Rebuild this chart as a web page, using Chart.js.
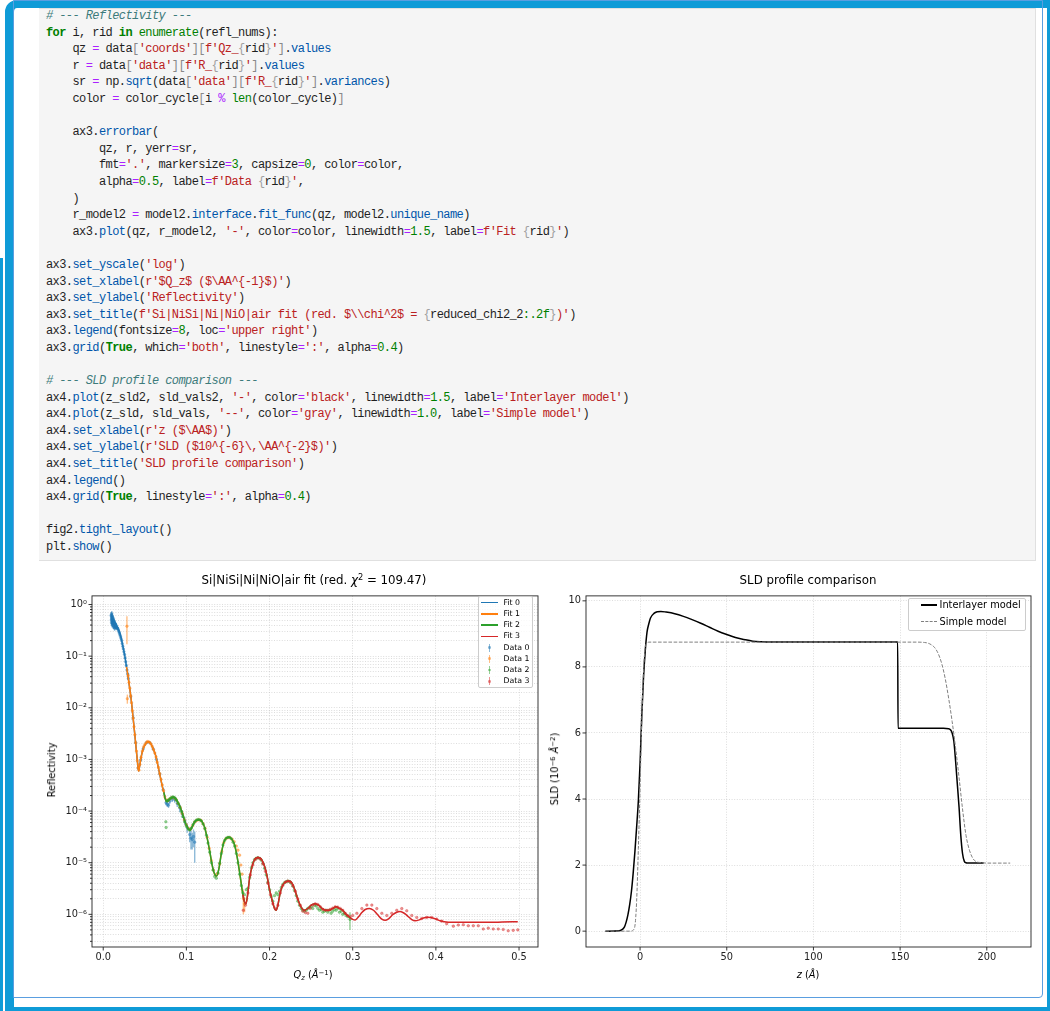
<!DOCTYPE html>
<html>
<head>
<meta charset="utf-8">
<script src="https://cdn.jsdelivr.net/npm/chart.js@4.4.1/dist/chart.umd.min.js"></script>
<style>
html,body{margin:0;padding:0;background:#fff;}
body{width:1050px;height:1011px;position:relative;overflow:hidden;font-family:"DejaVu Sans",sans-serif;color:#000;}
.a{position:absolute;}
#code{left:39px;top:8px;width:997px;height:553px;background:#f5f5f5;border-right:1px solid #e0e0e0;border-bottom:1px solid #e0e0e0;border-top:1px solid #e0e0e0;box-sizing:border-box;}
#code pre{margin:0;position:absolute;left:7px;top:-1px;font-family:"Liberation Mono",monospace;font-size:12px;line-height:16.6px;letter-spacing:-0.58px;color:#1f1f1f;}
.kw{color:#008000;font-weight:bold}
.bi{color:#008000}
.st{color:#ba2121}
.nu{color:#008000}
.cm{color:#3d7b7b;font-style:italic}
.op{color:#aa22ff}
.pr{color:#0055aa}
.br{color:#888}
.fb{color:#a0a0a0}
.lbl{position:absolute;white-space:nowrap;transform:translate(-50%,-50%);font-family:"DejaVu Sans",sans-serif;color:#000;line-height:1;}
.lbl sup{font-size:0.7em;vertical-align:0;position:relative;top:-0.5em;}
.lbl sub{font-size:0.7em;vertical-align:0;position:relative;top:0.3em;}
.leg{position:absolute;background:rgba(255,255,255,0.8);border:1px solid #cccccc;border-radius:2px;box-sizing:border-box;}
.legtxt{position:absolute;white-space:nowrap;font-family:"DejaVu Sans",sans-serif;color:#000;line-height:1;transform:translateY(-50%);}
</style>
</head>
<body>
<!-- notebook frame -->
<div class="a" style="left:0;top:258px;width:3px;height:753px;background:#0f9bd7"></div>
<div class="a" style="left:5px;top:0;width:1045px;height:1011px;box-sizing:border-box;border-style:solid;border-color:#0f9bd7;border-width:8px 3px 4px 9px;border-top-left-radius:12px;"></div>
<div class="a" style="left:13px;top:0;width:1030px;height:998px;box-sizing:border-box;border:1px solid #5a9ee0;border-radius:0 0 4px 0;"></div>

<div id="code" class="a"><pre id="codepre"></pre></div>

<script type="text/plain" id="src"># --- Reflectivity ---
for i, rid in enumerate(refl_nums):
    qz = data['coords'][f'Qz_{rid}'].values
    r = data['data'][f'R_{rid}'].values
    sr = np.sqrt(data['data'][f'R_{rid}'].variances)
    color = color_cycle[i % len(color_cycle)]

    ax3.errorbar(
        qz, r, yerr=sr,
        fmt='.', markersize=3, capsize=0, color=color,
        alpha=0.5, label=f'Data {rid}',
    )
    r_model2 = model2.interface.fit_func(qz, model2.unique_name)
    ax3.plot(qz, r_model2, '-', color=color, linewidth=1.5, label=f'Fit {rid}')

ax3.set_yscale('log')
ax3.set_xlabel(r'$Q_z$ ($\AA^{-1}$)')
ax3.set_ylabel('Reflectivity')
ax3.set_title(f'Si|NiSi|Ni|NiO|air fit (red. $\\chi^2$ = {reduced_chi2_2:.2f})')
ax3.legend(fontsize=8, loc='upper right')
ax3.grid(True, which='both', linestyle=':', alpha=0.4)

# --- SLD profile comparison ---
ax4.plot(z_sld2, sld_vals2, '-', color='black', linewidth=1.5, label='Interlayer model')
ax4.plot(z_sld, sld_vals, '--', color='gray', linewidth=1.0, label='Simple model')
ax4.set_xlabel(r'z ($\AA$)')
ax4.set_ylabel(r'SLD ($10^{-6}\,\AA^{-2}$)')
ax4.set_title('SLD profile comparison')
ax4.legend()
ax4.grid(True, linestyle=':', alpha=0.4)

fig2.tight_layout()
plt.show()</script>

<div class="a" style="left:40px;top:585px;width:505px;height:400px;"><canvas id="refl" width="505" height="400"></canvas></div>
<div class="a" style="left:545px;top:585px;width:495px;height:400px;"><canvas id="sld" width="495" height="400"></canvas></div>

<div class="lbl" style="left:314px;top:581px;font-size:11.8px;">Si|NiSi|Ni|NiO|air fit (red. <i>χ</i><sup>2</sup> = 109.47)</div>
<div class="lbl" style="left:51.5px;top:770px;font-size:9.8px;transform:translate(-50%,-50%) rotate(-90deg);">Reflectivity</div>
<div class="lbl" style="left:313px;top:975px;font-size:9.8px;"><i>Q<sub>z</sub></i> (<i>Å</i><sup>−1</sup>)</div>

<div class="lbl" style="left:808px;top:581px;font-size:11.8px;">SLD profile comparison</div>
<div class="lbl" style="left:555px;top:769px;font-size:9.8px;transform:translate(-50%,-50%) rotate(-90deg);">SLD (10<sup>−6</sup> <i>Å</i><sup>−2</sup>)</div>
<div class="lbl" style="left:808px;top:975px;font-size:9.8px;"><i>z</i> (<i>Å</i>)</div>

<div id="legRefl" class="leg" style="left:477.5px;top:596px;width:55.5px;height:92px;"></div>
<div id="legSld" class="leg" style="left:907.5px;top:597.5px;width:118.5px;height:33.5px;"></div>

<script>
// ================= DATA =================
const reflXTicks = [0.0, 0.1, 0.2, 0.3, 0.4, 0.5];
const reflXTickLabels = ['0.0', '0.1', '0.2', '0.3', '0.4', '0.5'];
const reflYDecades = [1e-7, 1e-6, 1e-5, 1e-4, 1e-3, 1e-2, 1e-1, 1e0];
const reflYDecadeLabels = ['10⁻⁷', '10⁻⁶', '10⁻⁵', '10⁻⁴', '10⁻³', '10⁻²', '10⁻¹', '10⁰'];
const reflYMinorSteps = [2, 3, 4, 5, 6, 7, 8, 9];

const fitLabels = ['Fit 0', 'Fit 1', 'Fit 2', 'Fit 3'];
const dataLabels = ['Data 0', 'Data 1', 'Data 2', 'Data 3'];
const fitRanges = [[0.0095, 0.1100], [0.0280, 0.1700], [0.0730, 0.2970], [0.1680, 0.4985]];

const fitQ = [0.0095, 0.0100, 0.0125, 0.0150, 0.0175, 0.0200, 0.0220, 0.0240, 0.0260, 0.0280,
  0.0300, 0.0320, 0.0340, 0.0360, 0.0380, 0.0400, 0.0415, 0.0426, 0.0440, 0.0460,
  0.0480, 0.0510, 0.0540, 0.0570, 0.0600, 0.0630, 0.0660, 0.0690, 0.0720, 0.0730,
  0.0745, 0.0765, 0.0790, 0.0820, 0.0845, 0.0870, 0.0900, 0.0925, 0.0950, 0.0975,
  0.1000, 0.1025, 0.1045, 0.1070, 0.1100, 0.1130, 0.1160, 0.1190, 0.1220, 0.1250,
  0.1280, 0.1310, 0.1340, 0.1365, 0.1390, 0.1420, 0.1450, 0.1480, 0.1515, 0.1550,
  0.1580, 0.1610, 0.1640, 0.1670, 0.1680, 0.1695, 0.1715, 0.1735, 0.1760, 0.1790,
  0.1820, 0.1860, 0.1900, 0.1940, 0.1970, 0.2000, 0.2030, 0.2060, 0.2080, 0.2100,
  0.2130, 0.2160, 0.2200, 0.2235, 0.2270, 0.2300, 0.2330, 0.2360, 0.2390, 0.2420,
  0.2460, 0.2500, 0.2545, 0.2590, 0.2630, 0.2680, 0.2720, 0.2760, 0.2800, 0.2840,
  0.2880, 0.2920, 0.2960, 0.2970, 0.3000, 0.3030, 0.3070, 0.3110, 0.3150, 0.3200,
  0.3250, 0.3300, 0.3350, 0.3390, 0.3430, 0.3480, 0.3530, 0.3570, 0.3620, 0.3670,
  0.3710, 0.3750, 0.3800, 0.3850, 0.3900, 0.3940, 0.3990, 0.4050, 0.4100, 0.4200,
  0.4350, 0.4500, 0.4650, 0.4800, 0.4985];
const fitR = [0.56, 0.55, 0.50, 0.43, 0.35, 0.28, 0.21, 0.146, 0.100, 0.062,
  0.039, 0.023, 0.0128, 0.0062, 0.0030, 1.40e-3, 8.0e-4, 6.0e-4, 7.8e-4, 1.20e-3,
  1.60e-3, 2.00e-3, 2.20e-3, 2.05e-3, 1.62e-3, 1.20e-3, 7.3e-4, 4.3e-4, 2.6e-4, 2.3e-4,
  1.75e-4, 1.55e-4, 1.65e-4, 1.80e-4, 1.85e-4, 1.75e-4, 1.45e-4, 1.20e-4, 9.2e-5, 6.8e-5,
  5.3e-5, 4.5e-5, 4.3e-5, 5.0e-5, 6.2e-5, 6.7e-5, 6.8e-5, 6.2e-5, 4.8e-5, 3.0e-5,
  1.70e-5, 9.0e-6, 6.0e-6, 5.5e-6, 7.5e-6, 1.50e-5, 2.50e-5, 3.00e-5, 3.10e-5, 2.80e-5,
  2.20e-5, 1.30e-5, 6.5e-6, 3.0e-6, 2.4e-6, 1.8e-6, 1.6e-6, 2.3e-6, 5.0e-6, 8.5e-6,
  1.15e-5, 1.26e-5, 1.18e-5, 8.5e-6, 5.5e-6, 3.0e-6, 1.9e-6, 1.3e-6, 1.2e-6, 1.5e-6,
  2.7e-6, 3.7e-6, 4.3e-6, 4.4e-6, 4.0e-6, 3.1e-6, 2.2e-6, 1.6e-6, 1.3e-6, 1.2e-6,
  1.3e-6, 1.5e-6, 1.6e-6, 1.5e-6, 1.3e-6, 1.2e-6, 1.2e-6, 1.3e-6, 1.4e-6, 1.3e-6,
  1.2e-6, 1.0e-6, 8.8e-7, 8.6e-7, 8.0e-7, 7.8e-7, 9.0e-7, 1.08e-6, 1.24e-6, 1.30e-6,
  1.20e-6, 9.8e-7, 8.1e-7, 7.7e-7, 8.2e-7, 9.8e-7, 1.10e-6, 1.13e-6, 1.05e-6, 9.0e-7,
  7.9e-7, 7.5e-7, 7.8e-7, 8.5e-7, 8.8e-7, 8.7e-7, 8.2e-7, 7.5e-7, 7.2e-7, 7.0e-7,
  7.0e-7, 7.0e-7, 7.0e-7, 7.1e-7, 7.2e-7];

// measured points: [Qz, R, dR]
const data0 = [[0.0095,0.62,0.10],[0.0097,0.50,0.08],[0.0099,0.58,0.09],[0.0101,0.45,0.07],[0.0103,0.66,0.09],
  [0.0105,0.53,0.07],[0.0107,0.42,0.06],[0.0109,0.60,0.08],[0.0111,0.47,0.06],[0.0113,0.56,0.07],
  [0.0115,0.43,0.05],[0.0117,0.51,0.06],[0.0119,0.39,0.05],[0.0122,0.53,0.06],[0.0125,0.45,0.05],
  [0.0128,0.37,0.04],[0.0131,0.48,0.05],[0.0134,0.41,0.04],[0.0137,0.35,0.04],[0.0141,0.43,0.04],
  [0.0145,0.37,0.035],[0.0149,0.41,0.035],[0.0154,0.35,0.03],[0.0159,0.38,0.03],[0.0165,0.36,0.025],
  [0.0170,0.35,0.02],[0.0176,0.34,0.02],[0.0182,0.32,0.018],[0.0188,0.30,0.016],[0.0194,0.28,0.014],
  [0.0200,0.26,0.012],[0.0207,0.24,0.010],[0.0214,0.22,0.009],[0.0221,0.20,0.008],[0.0228,0.175,0.007],
  [0.0235,0.155,0.006],[0.0242,0.138,0.005],[0.0249,0.122,0.004],[0.0256,0.108,0.004],[0.0263,0.092,0.003],
  [0.0270,0.078,0.003],[0.0278,0.066,0.002],[0.0286,0.054,0.002],[0.0294,0.045,0.002],[0.0302,0.037,0.0015],
  [0.0330,0.0165],[0.0360,0.0064],[0.0390,0.0021],[0.0420,0.00068],[0.0450,0.00098],[0.0480,0.0016],
  [0.0520,0.0021],[0.0560,0.0021],[0.0600,0.0016],[0.0640,0.0010],[0.0680,0.00052],[0.0720,0.00026],
  [0.0755,1.45e-4,1.5e-5],[0.0770,1.35e-4,1.5e-5],[0.0785,1.30e-4,1.5e-5],[0.0800,1.55e-4,1.8e-5],
  [0.0830,1.70e-4,2.0e-5],[0.0860,1.65e-4,2.0e-5],[0.0890,1.40e-4,2.0e-5],[0.0920,1.15e-4,2.0e-5],
  [0.0950,8.8e-5,1.5e-5],[0.0980,6.5e-5,1.2e-5],[0.1010,4.8e-5,1.0e-5],[0.1040,3.5e-5,1.0e-5],
  [0.1055,3.0e-5,1.2e-5],[0.1070,2.8e-5,1.0e-5],[0.1085,3.2e-5,1.2e-5],[0.1100,2.5e-5,1.5e-5]];

const data1 = [[0.0285,0.38,0.21],[0.0290,0.015,0.003],[0.0300,0.042],[0.0310,0.031],[0.0320,0.024],
  [0.0330,0.017],[0.0340,0.0125],[0.0350,0.0088],[0.0360,0.0063],[0.0370,0.0043],[0.0380,0.0030],
  [0.0390,0.0021],[0.0400,0.00145],[0.0410,0.00095],[0.0420,0.00068],[0.0430,0.00062],[0.0440,0.00080],
  [0.0455,0.00110],[0.0470,0.00145],[0.0485,0.00175],[0.0500,0.00195],[0.0515,0.00210],[0.0530,0.00222],
  [0.0545,0.00220],[0.0560,0.00212],[0.0575,0.00198],[0.0590,0.00178],[0.0605,0.00155],[0.0620,0.00133],
  [0.0635,0.00112],[0.0650,0.00088],[0.0665,0.00070],[0.0680,0.00053],[0.0695,0.00041],[0.0710,0.00032],
  [0.0725,0.00025],[0.0740,0.00019],[0.0760,1.65e-4],[0.0780,1.60e-4],[0.0800,1.72e-4],[0.0825,1.82e-4],
  [0.0850,1.80e-4],[0.0875,1.68e-4],[0.0900,1.42e-4],[0.0925,1.18e-4],[0.0950,9.0e-5],[0.0975,6.8e-5],
  [0.1000,5.4e-5],[0.1025,4.6e-5],[0.1050,4.5e-5],[0.1075,5.2e-5],[0.1100,6.1e-5],[0.1125,6.6e-5],
  [0.1150,6.8e-5],[0.1175,6.6e-5],[0.1200,5.7e-5],[0.1225,4.6e-5],[0.1250,3.1e-5],[0.1275,1.9e-5],
  [0.1300,1.1e-5],[0.1325,7.2e-6],[0.1350,5.8e-6],[0.1375,6.2e-6],[0.1400,9.5e-6],[0.1425,1.65e-5],
  [0.1450,2.45e-5],[0.1475,2.9e-5],[0.1500,3.05e-5],[0.1525,3.05e-5],[0.1550,2.85e-5],[0.1575,2.55e-5],
  [0.1600,2.1e-5],[0.1620,1.75e-5],[0.1640,1.4e-5],[0.1655,9.0e-6],[0.1670,6.0e-6],[0.1685,2.0e-6,1.0e-6],
  [0.1700,1.6e-6,5e-7]];

const data2 = [[0.0753,6.2e-5],[0.0756,4.8e-5],[0.0765,1.55e-4],[0.0775,1.60e-4],[0.0790,1.66e-4],
  [0.0805,1.75e-4],[0.0820,1.82e-4],[0.0835,1.88e-4],[0.0850,1.85e-4],[0.0865,1.78e-4],[0.0880,1.62e-4],
  [0.0900,1.42e-4],[0.0920,1.20e-4],[0.0940,9.8e-5],[0.0960,7.8e-5],[0.0980,6.2e-5],[0.1000,5.1e-5],
  [0.1020,4.5e-5],[0.1040,4.3e-5],[0.1060,4.7e-5],[0.1080,5.5e-5],[0.1100,6.2e-5],[0.1120,6.7e-5],
  [0.1140,6.9e-5],[0.1160,6.8e-5],[0.1180,6.4e-5],[0.1200,5.6e-5],[0.1220,4.6e-5],[0.1240,3.4e-5],
  [0.1260,2.4e-5],[0.1280,1.6e-5],[0.1300,1.0e-5],[0.1320,7.2e-6],[0.1340,5.4e-6],[0.1360,5.0e-6],
  [0.1380,6.3e-6],[0.1400,9.8e-6],[0.1420,1.5e-5],[0.1440,2.2e-5],[0.1460,2.7e-5],[0.1480,3.0e-5],
  [0.1500,3.1e-5],[0.1520,3.1e-5],[0.1540,2.9e-5],[0.1560,2.5e-5],[0.1580,2.1e-5],[0.1600,1.5e-5],
  [0.1620,1.0e-5],[0.1640,6.0e-6],[0.1660,3.6e-6],[0.1680,2.6e-6],[0.1700,2.4e-6],[0.1720,3.0e-6],
  [0.1740,3.2e-6],[0.1760,5.2e-6],[0.1780,8.0e-6],[0.1800,1.0e-5],[0.1820,1.15e-5],[0.1840,1.22e-5],
  [0.1860,1.25e-5],[0.1880,1.22e-5],[0.1900,1.12e-5],[0.1920,9.6e-6],[0.1940,7.8e-6],[0.1960,5.8e-6],
  [0.1980,4.2e-6],[0.2000,3.0e-6],[0.2020,2.2e-6],[0.2040,1.8e-6],[0.2060,2.3e-6],[0.2080,2.6e-6],
  [0.2100,2.4e-6],[0.2120,2.8e-6],[0.2140,3.3e-6],[0.2160,3.8e-6],[0.2180,4.1e-6],[0.2200,4.3e-6],
  [0.2220,4.4e-6],[0.2240,4.3e-6],[0.2260,4.0e-6],[0.2280,3.5e-6],[0.2300,2.9e-6],[0.2320,2.3e-6],
  [0.2340,1.8e-6],[0.2360,1.5e-6],[0.2380,1.3e-6],[0.2400,1.2e-6],[0.2420,1.15e-6],[0.2440,1.2e-6],
  [0.2460,1.3e-6],[0.2480,1.35e-6],[0.2500,1.4e-6],[0.2520,1.3e-6],[0.2540,1.5e-6],[0.2560,1.45e-6],
  [0.2580,1.3e-6],[0.2600,1.2e-6],[0.2620,1.25e-6],[0.2640,1.1e-6],[0.2660,1.15e-6],[0.2680,1.2e-6],
  [0.2700,1.1e-6],[0.2720,1.2e-6],[0.2740,1.05e-6],[0.2760,1.15e-6],[0.2780,1.25e-6],[0.2800,1.2e-6],
  [0.2820,1.3e-6],[0.2840,1.1e-6],[0.2860,1.15e-6],[0.2880,1.0e-6],[0.2900,1.05e-6],[0.2920,9.5e-7],
  [0.2940,9.0e-7],[0.2967,8.0e-7,3.0e-7]];

const data3 = [[0.1684,1.2e-6],[0.1710,1.5e-6],[0.1740,2.6e-6],[0.1770,5.8e-6],[0.1800,9.0e-6],
  [0.1830,1.15e-5],[0.1860,1.24e-5],[0.1890,1.18e-5],[0.1920,9.5e-6],[0.1950,6.8e-6],[0.1980,4.0e-6],
  [0.2010,2.4e-6],[0.2040,1.6e-6],[0.2070,1.3e-6],[0.2100,1.5e-6],[0.2130,2.6e-6],[0.2160,3.6e-6],
  [0.2190,4.2e-6],[0.2220,4.4e-6],[0.2250,4.2e-6],[0.2280,3.6e-6],[0.2310,2.8e-6],[0.2340,2.0e-6],
  [0.2370,1.5e-6],[0.2400,1.15e-6],[0.2430,1.08e-6],[0.2460,1.05e-6],[0.2490,1.3e-6],[0.2520,1.5e-6],
  [0.2550,1.6e-6],[0.2580,1.55e-6],[0.2610,1.4e-6],[0.2640,1.25e-6],[0.2670,1.2e-6],[0.2700,1.2e-6],
  [0.2730,1.25e-6],[0.2760,1.32e-6],[0.2790,1.4e-6],[0.2820,1.38e-6],[0.2850,1.3e-6],[0.2880,1.2e-6],
  [0.2910,1.05e-6],[0.2940,9.5e-7],[0.2970,9.0e-7],[0.3000,9.5e-7],[0.3050,1.05e-6],[0.3110,1.29e-6],
  [0.3170,1.51e-6],[0.3230,1.51e-6],[0.3290,1.29e-6],[0.3350,1.05e-6],[0.3410,9.5e-7],[0.3470,1.05e-6],
  [0.3530,1.20e-6],[0.3590,1.29e-6],[0.3650,1.17e-6],[0.3710,9.5e-7],[0.3770,8.7e-7],[0.3830,8.3e-7],
  [0.3890,8.7e-7],[0.3950,8.7e-7],[0.4010,8.1e-7],[0.4070,7.4e-7],[0.4130,6.6e-7],[0.4210,5.9e-7],
  [0.4270,6.2e-7],[0.4330,6.3e-7],[0.4390,6.0e-7],[0.4450,6.0e-7],[0.4510,6.0e-7],[0.4570,5.2e-7],
  [0.4630,5.4e-7],[0.4690,5.2e-7],[0.4750,5.2e-7],[0.4810,5.1e-7],[0.4870,4.8e-7],[0.4930,4.9e-7],
  [0.4985,5.0e-7]];

const sldXTicks = [0, 50, 100, 150, 200];
const sldXTickLabels = ['0', '50', '100', '150', '200'];
const sldYTicks = [0, 2, 4, 6, 8, 10];
const sldYTickLabels = ['0', '2', '4', '6', '8', '10'];
const sldLabels = ['Interlayer model', 'Simple model'];

const interZ = [-20, -12, -10, -9, -8, -7, -6, -5, -4, -3, -2, -1, 0, 1, 2, 3, 4, 5, 6, 8,
  10, 12, 15, 20, 25, 30, 35, 40, 45, 50, 55, 60, 65, 70, 75, 80, 100, 120, 140, 148.6,
  148.8, 160, 175, 178, 179, 180, 181, 182, 183, 184, 185, 186, 187, 188, 189, 190, 195, 198.2];
const interSLD = [0.00, 0.01, 0.06, 0.13, 0.28, 0.50, 0.80, 1.20, 1.75, 2.40, 3.15, 3.95, 5.10, 6.55, 7.70, 8.50, 9.05, 9.30, 9.48, 9.62,
  9.67, 9.68, 9.66, 9.61, 9.53, 9.43, 9.32, 9.20, 9.08, 8.98, 8.89, 8.83, 8.78, 8.76, 8.75, 8.75, 8.75, 8.75, 8.75, 8.75,
  6.14, 6.14, 6.14, 6.13, 6.10, 6.00, 5.75, 5.15, 4.45, 3.75, 2.90, 2.35, 2.12, 2.07, 2.06, 2.06, 2.06, 2.06];

const simpleZ = [-20, -5, -4, -3, -2, -1, 0, 1, 2, 3, 4, 5, 60, 120, 160, 164, 166, 168, 170, 172,
  174, 176, 178, 180, 182, 184, 186, 188, 190, 192, 194, 196, 200, 213.5];
const simpleSLD = [0.00, 0.00, 0.03, 0.15, 0.90, 2.50, 4.35, 6.40, 7.90, 8.60, 8.72, 8.75, 8.75, 8.75, 8.75, 8.74, 8.72, 8.67, 8.58, 8.40,
  8.10, 7.65, 7.05, 6.35, 5.55, 4.65, 3.70, 2.90, 2.45, 2.20, 2.10, 2.08, 2.06, 2.06];

// ================= CODE CELL =================
(function(){
  const KW = new Set(['for','in','True','False','None','if','else','import','from','def','return']);
  const BI = new Set(['enumerate','len','range','print']);
  const esc = s => s.replace(/&/g,'&amp;').replace(/</g,'&lt;').replace(/>/g,'&gt;');
  const sp = (c,t) => '<span class="'+c+'">'+esc(t)+'</span>';
  function hl(line){
    let out='', i=0; const n=line.length;
    while(i<n){
      const c=line[i]; const prev=i>0?line[i-1]:'';
      if(c==='#'){ out+=sp('cm',line.slice(i)); break; }
      if(c==="'" || ((c==='f'||c==='r') && line[i+1]==="'" && !/\w/.test(prev))){
        const pre = c==="'" ? '' : c;
        const qs = i+pre.length;
        const qe = line.indexOf("'", qs+1);
        const body = line.slice(qs+1, qe);
        if(pre==='f'){
          out += sp('st',"f'");
          let j=0;
          while(j<body.length){
            const b=body.indexOf('{',j);
            if(b<0){ out+=sp('st',body.slice(j)); break; }
            if(b>j) out+=sp('st',body.slice(j,b));
            const e=body.indexOf('}',b);
            const inner=body.slice(b+1,e);
            const ci=inner.indexOf(':');
            out+=sp('fb','{');
            if(ci>=0) out+=esc(inner.slice(0,ci))+sp('nu',inner.slice(ci)); else out+=esc(inner);
            out+=sp('fb','}');
            j=e+1;
          }
          out += sp('st',"'");
        } else {
          out += sp('st', pre+"'"+body+"'");
        }
        i=qe+1; continue;
      }
      if(/[A-Za-z_]/.test(c)){
        let j=i; while(j<n && /\w/.test(line[j])) j++;
        const w=line.slice(i,j);
        let cls='';
        if(KW.has(w)) cls='kw'; else if(BI.has(w)) cls='bi'; else if(prev==='.') cls='pr';
        out += cls ? sp(cls,w) : esc(w);
        i=j; continue;
      }
      if(/\d/.test(c)){
        let j=i; while(j<n && /[\d.]/.test(line[j])) j++;
        out+=sp('nu',line.slice(i,j)); i=j; continue;
      }
      if(c==='='||c==='%'){ out+=sp('op',c); i++; continue; }
      if('[]{}'.includes(c)){ out+=sp('br',c); i++; continue; }
      out+=esc(c); i++;
    }
    return out;
  }
  const src=document.getElementById('src').textContent.replace(/^\n/,'');
  document.getElementById('codepre').innerHTML = src.split('\n').map(hl).join('\n');
})();

// ================= CHARTS =================
const tab = ['#1f77b4', '#ff7f0e', '#2ca02c', '#d62728'];
const tabA = ['rgba(31,119,180,0.5)', 'rgba(255,127,14,0.5)', 'rgba(44,160,44,0.5)', 'rgba(214,39,40,0.5)'];
const gridColor = 'rgba(176,176,176,0.55)';
const tickFont = {family: 'DejaVu Sans', size: 9.8};

const errorBarPlugin = {
  id: 'errbars',
  beforeDatasetDraw(chart, args) {
    const ds = chart.data.datasets[args.index];
    if (!ds.errors) return;
    const {ctx, chartArea: a} = chart;
    const xs = chart.scales.x, ys = chart.scales.y;
    ctx.save();
    ctx.beginPath(); ctx.rect(a.left, a.top, a.right - a.left, a.bottom - a.top); ctx.clip();
    ctx.strokeStyle = ds.backgroundColor;
    ctx.lineWidth = 1.4;
    ds.data.forEach((p, i) => {
      const e = ds.errors[i];
      if (!e) return;
      const px = xs.getPixelForValue(p.x);
      const lo = Math.max(p.y - e, ys.min);
      ctx.beginPath();
      ctx.moveTo(px, ys.getPixelForValue(lo));
      ctx.lineTo(px, ys.getPixelForValue(p.y + e));
      ctx.stroke();
    });
    ctx.restore();
  }
};

const mplAxesPlugin = {
  id: 'mplAxes',
  afterDatasetsDraw(chart) {
    const {ctx, chartArea: a} = chart;
    const xs = chart.scales.x, ys = chart.scales.y;
    ctx.save();
    ctx.strokeStyle = '#222';
    ctx.lineWidth = 0.9;
    ctx.strokeRect(a.left, a.top, a.right - a.left, a.bottom - a.top);
    xs.ticks.forEach(t => {
      const px = xs.getPixelForValue(t.value);
      const L = t.major ? 3.5 : 2;
      ctx.beginPath(); ctx.moveTo(px, a.bottom); ctx.lineTo(px, a.bottom + L); ctx.stroke();
    });
    ys.ticks.forEach(t => {
      const py = ys.getPixelForValue(t.value);
      const L = t.major ? 3.5 : 2;
      ctx.beginPath(); ctx.moveTo(a.left, py); ctx.lineTo(a.left - L, py); ctx.stroke();
    });
    ctx.restore();
  }
};

// ---- reflectivity chart ----
const reflDatasets = [];
fitLabels.forEach((lab, k) => {
  const pts = [];
  fitQ.forEach((q, i) => { if (q >= fitRanges[k][0] - 1e-9 && q <= fitRanges[k][1] + 1e-9) pts.push({x: q, y: fitR[i]}); });
  reflDatasets.push({
    label: lab, data: pts, borderColor: tab[k], backgroundColor: tab[k], borderWidth: 1.5,
    pointRadius: 0, cubicInterpolationMode: 'monotone', order: 7 - 2 * k, kind: 'fit'
  });
});
[data0, data1, data2, data3].forEach((arr, k) => {
  reflDatasets.push({
    label: dataLabels[k], data: arr.map(p => ({x: p[0], y: p[1]})), errors: arr.map(p => p[2] || 0),
    showLine: false, pointRadius: 1.3, pointBorderWidth: 0.6, pointBackgroundColor: tabA[k], pointBorderColor: tabA[k],
    backgroundColor: tabA[k], borderColor: tabA[k], order: 8 - 2 * k, kind: 'data', solid: tab[k]
  });
});

const reflChart = new Chart(document.getElementById('refl'), {
  type: 'line',
  data: {datasets: reflDatasets},
  plugins: [errorBarPlugin, mplAxesPlugin],
  options: {
    responsive: false, animation: false, devicePixelRatio: 1,
    layout: {padding: {top: 7, right: 7, bottom: 8, left: 0}},
    plugins: {legend: {display: false}, tooltip: {enabled: false}, title: {display: false}},
    scales: {
      x: {
        type: 'linear', min: -0.0135, max: 0.5228,
        afterBuildTicks: s => { s.ticks = reflXTicks.map(v => ({value: v, major: true})); },
        afterFit: s => { s.height = 30; },
        ticks: {font: tickFont, color: '#222', padding: 5, autoSkip: false, maxRotation: 0,
          callback: (v, i) => reflXTickLabels[i]},
        grid: {color: gridColor, lineWidth: 0.8, drawTicks: false},
        border: {display: false, dash: [1, 1.6]}
      },
      y: {
        type: 'logarithmic', min: 2.33e-7, max: 1.47, bounds: 'data',
        afterBuildTicks: s => {
          const t = [];
          reflYDecades.forEach(d => {
            if (d >= s.min && d <= s.max) t.push({value: d, major: true});
            reflYMinorSteps.forEach(m => { const v = m * d; if (v >= s.min && v <= s.max) t.push({value: v, major: false}); });
          });
          t.sort((p, q) => p.value - q.value);
          s.ticks = t;
        },
        afterFit: s => { s.width = 52; },
        ticks: {font: tickFont, color: '#222', padding: 5, autoSkip: false,
          callback: function(v, i, ticks) {
            if (!ticks[i].major) return '';
            const idx = reflYDecades.findIndex(d => Math.abs(d - v) / d < 1e-6);
            return reflYDecadeLabels[idx];
          }},
        grid: {color: gridColor, lineWidth: 0.8, drawTicks: false},
        border: {display: false, dash: [1, 1.6]}
      }
    }
  }
});

// ---- SLD chart ----
const sldChart = new Chart(document.getElementById('sld'), {
  type: 'line',
  data: {datasets: [
    {label: sldLabels[0], data: interZ.map((z, i) => ({x: z, y: interSLD[i]})), borderColor: '#000000',
      backgroundColor: '#000000', borderWidth: 1.5, pointRadius: 0, cubicInterpolationMode: 'monotone', order: 1, dash: []},
    {label: sldLabels[1], data: simpleZ.map((z, i) => ({x: z, y: simpleSLD[i]})), borderColor: '#808080',
      backgroundColor: '#808080', borderWidth: 1.0, borderDash: [3.6, 1.6], pointRadius: 0, cubicInterpolationMode: 'monotone', order: 0, dash: [3.6, 1.6]}
  ]},
  plugins: [mplAxesPlugin],
  options: {
    responsive: false, animation: false, devicePixelRatio: 1,
    layout: {padding: {top: 8, right: 9, bottom: 8, left: 0}},
    plugins: {legend: {display: false}, tooltip: {enabled: false}, title: {display: false}},
    scales: {
      x: {
        type: 'linear', min: -31.2, max: 225.5,
        afterBuildTicks: s => { s.ticks = sldXTicks.map(v => ({value: v, major: true})); },
        afterFit: s => { s.height = 30; },
        ticks: {font: tickFont, color: '#222', padding: 5, autoSkip: false, maxRotation: 0,
          callback: (v, i) => sldXTickLabels[i]},
        grid: {color: gridColor, lineWidth: 0.8, drawTicks: false},
        border: {display: false, dash: [1, 1.6]}
      },
      y: {
        type: 'linear', min: -0.48, max: 10.15,
        afterBuildTicks: s => { s.ticks = sldYTicks.map(v => ({value: v, major: true})); },
        afterFit: s => { s.width = 41; },
        ticks: {font: tickFont, color: '#222', padding: 5, autoSkip: false,
          callback: (v, i) => sldYTickLabels[i]},
        grid: {color: gridColor, lineWidth: 0.8, drawTicks: false},
        border: {display: false, dash: [1, 1.6]}
      }
    }
  }
});

// ---- legends (built from the charts' datasets) ----
function buildLegend(boxId, items, opt) {
  const box = document.getElementById(boxId);
  const r = box.getBoundingClientRect();
  items.forEach((it, i) => {
    const cy = opt.firstRow + opt.rowGap * i;
    if (it.kind === 'data') {
      const bar = document.createElement('div');
      bar.className = 'a';
      bar.style.cssText = `left:${opt.barX - 0.7}px;top:${cy - 4}px;width:1.4px;height:8px;background:${it.color};`;
      box.appendChild(bar);
      const dot = document.createElement('div');
      dot.className = 'a';
      dot.style.cssText = `left:${opt.barX - 1.3}px;top:${cy - 1.3}px;width:2.6px;height:2.6px;border-radius:50%;background:${it.color};`;
      box.appendChild(dot);
    } else {
      const ln = document.createElement('div');
      ln.className = 'a';
      if (it.dash && it.dash.length) {
        ln.style.cssText = `left:${opt.lineX0}px;top:${cy - it.width / 2}px;width:${opt.lineX1 - opt.lineX0}px;height:0;border-top:${it.width}px dashed ${it.color};`;
      } else {
        ln.style.cssText = `left:${opt.lineX0}px;top:${cy - it.width / 2}px;width:${opt.lineX1 - opt.lineX0}px;height:${it.width}px;background:${it.color};`;
      }
      box.appendChild(ln);
    }
    const tx = document.createElement('div');
    tx.className = 'legtxt';
    tx.style.cssText = `left:${opt.textX}px;top:${cy}px;font-size:${opt.font}px;`;
    tx.textContent = it.label;
    box.appendChild(tx);
  });
}
const reflLegItems = reflChart.data.datasets.map(d => ({label: d.label, kind: d.kind, color: d.kind === 'data' ? d.backgroundColor : d.borderColor, width: 1.5}));
buildLegend('legRefl', reflLegItems, {firstRow: 5.5, rowGap: 11.25, lineX0: 2, lineX1: 19.5, barX: 11, textX: 25, font: 7.8});
const sldLegItems = sldChart.data.datasets.map(d => ({label: d.label, kind: 'line', color: d.borderColor, width: d.borderWidth, dash: d.dash}));
buildLegend('legSld', sldLegItems, {firstRow: 6.3, rowGap: 16.7, lineX0: 12, lineX1: 28.5, barX: 0, textX: 31, font: 9.8});
</script>
</body>
</html>
